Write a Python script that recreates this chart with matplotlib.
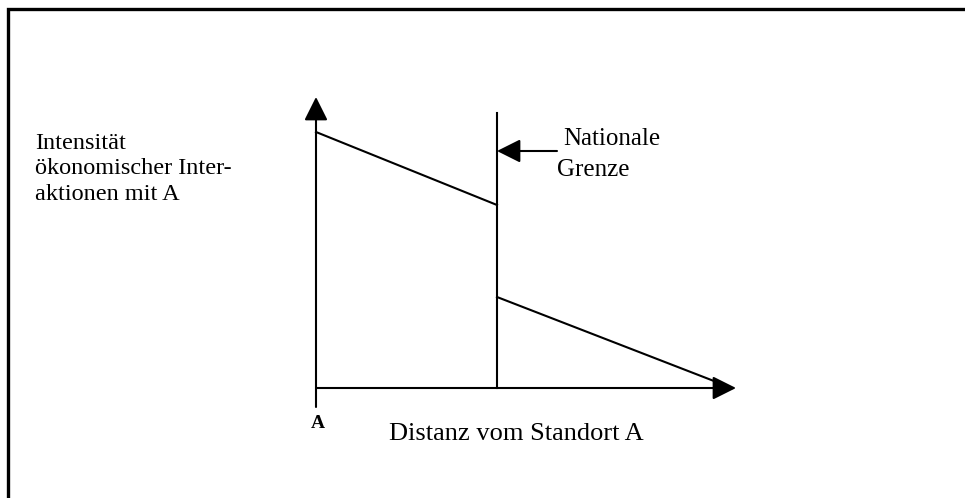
import matplotlib.pyplot as plt

W, H = 965, 498

# schematic data (origin = point A, units ~ pixels of the original)
distance_near = [0, 181]
intensity_near = [256, 183]
distance_far = [181, 416]
intensity_far = [91, 0]
border_distance = 181
border_top = 275
x_axis_end = 420
y_axis_end = 291

y_label = "Intensität\nökonomischer Inter-\naktionen mit A"
x_label = "Distanz vom Standort A"
border_label = ["Nationale", "Grenze"]
origin_label = "A"

plt.rcParams['font.family'] = ['Liberation Serif', 'DejaVu Serif']

fig = plt.figure(figsize=(W / 100, H / 100), dpi=100)
ax = fig.add_axes([0, 0, 1, 1])
# origin of the diagram sits at pixel (316, 388)
ax.set_xlim(-316, W - 316)
ax.set_ylim(-(H - 388), 388)
ax.axis('off')

# outer frame (only left and top edges are visible)
ax.plot([-308, -308, W], [-(H - 388) - 5, 379, 379], color='black', lw=2.4,
        solid_joinstyle='miter')

arrow = dict(arrowstyle='-|>,head_length=0.4,head_width=0.2', mutation_scale=36,
             color='black', lw=1.5, shrinkA=0, shrinkB=0)

# axes
ax.annotate('', xy=(0, y_axis_end), xytext=(0, -19), arrowprops=arrow)
ax.annotate('', xy=(x_axis_end, 0), xytext=(0, 0), arrowprops=arrow)

# border line
ax.plot([border_distance, border_distance], [0, border_top], color='black', lw=1.5)

# intensity lines
ax.plot(distance_near, intensity_near, color='black', lw=1.5)
ax.plot(distance_far, intensity_far, color='black', lw=1.5)

# pointer to border
ax.annotate('', xy=(border_distance, 237), xytext=(241, 237), arrowprops=arrow)

ax.text(563 - 316, 388 - 145, border_label[0], fontsize=18, va='baseline', ha='left')
ax.text(557 - 316, 388 - 176, border_label[1], fontsize=18, va='baseline', ha='left')

# va='baseline' puts the last line on this baseline
ax.text(35 - 316, 388 - 200, y_label, fontsize=17.5, va='baseline', ha='left',
        linespacing=1.29)

ax.text(516 - 316, 388 - 440, x_label, fontsize=19, va='baseline', ha='center')
ax.text(2, 388 - 427.5, origin_label, fontsize=14, fontweight='bold',
        va='baseline', ha='center')

fig.savefig('out.png', dpi=100)
